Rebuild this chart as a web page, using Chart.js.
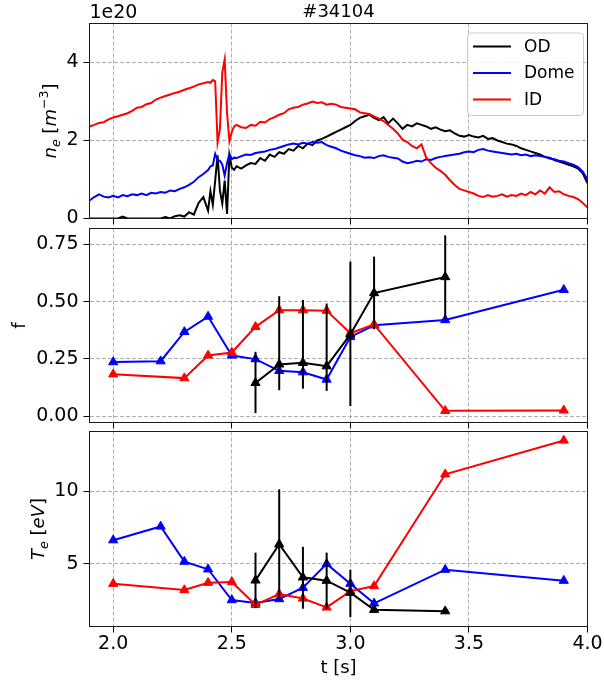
<!DOCTYPE html>
<html>
<head>
<meta charset="utf-8">
<title>#34104</title>
<script src="https://cdn.jsdelivr.net/npm/chart.js@4.4.1/dist/chart.umd.min.js"></script>
<style>
  body { margin: 0; background: #fff; overflow: hidden; }
  #wrap { position: relative; width: 604px; height: 684px; }
  #wrap canvas { position: absolute; left: 0; top: 0; }
</style>
</head>
<body>
<div id="wrap">
  <canvas id="neChart" width="604" height="684"></canvas>
  <canvas id="fChart" width="604" height="684"></canvas>
  <canvas id="teChart" width="604" height="684"></canvas>
</div>
<script>
// density traces, units of 1e20 m^-3
const neTime = [1.90, 1.92, 1.94, 1.96, 1.98, 2.00, 2.02, 2.04, 2.06, 2.08, 2.10, 2.12, 2.14, 2.16, 2.18, 2.20,
  2.22, 2.24, 2.26, 2.28, 2.30, 2.32, 2.34, 2.36, 2.38, 2.40,
  2.41, 2.42, 2.43, 2.44, 2.45, 2.46, 2.47, 2.48, 2.49, 2.50, 2.51, 2.52,
  2.54, 2.56, 2.58, 2.60, 2.62, 2.64, 2.66, 2.68, 2.70, 2.72, 2.74, 2.76, 2.78, 2.80, 2.82, 2.84, 2.86, 2.88,
  2.90, 2.92, 2.94, 2.96, 2.98, 3.00, 3.02, 3.04, 3.06, 3.08, 3.10, 3.12, 3.14, 3.16, 3.18, 3.20, 3.22, 3.24,
  3.26, 3.28, 3.30, 3.32, 3.34, 3.36, 3.38, 3.40, 3.42, 3.44, 3.46, 3.48, 3.50, 3.52, 3.54, 3.56, 3.58, 3.60,
  3.62, 3.64, 3.66, 3.68, 3.70, 3.72, 3.74, 3.76, 3.78, 3.80, 3.82, 3.84, 3.86, 3.88, 3.90, 3.92, 3.94, 3.96,
  3.98, 4.00];
const neOD = [0, 0, 0, 0, 0, 0, 0, 0.05, 0, 0, 0, 0, 0, 0, 0, 0,
  0.04, 0, 0.06, 0.08, 0.05, 0.16, 0.10, 0.40, 0.55, 0.20,
  0.70, 0.35, 0.97, 1.62, 0.72, 0.38, 0.97, 0.12, 1.62, 1.30, 1.25, 1.34,
  1.28, 1.36, 1.42, 1.40, 1.55, 1.48, 1.64, 1.58, 1.70, 1.66, 1.78, 1.74, 1.86, 1.80, 1.92, 1.88, 2.00, 2.04,
  2.10, 2.16, 2.22, 2.28, 2.34, 2.40, 2.50, 2.58, 2.62, 2.66, 2.58, 2.52, 2.60, 2.44, 2.56, 2.44, 2.30, 2.40,
  2.36, 2.44, 2.40, 2.36, 2.30, 2.34, 2.28, 2.24, 2.26, 2.18, 2.12, 2.10, 2.14, 2.10, 2.08, 2.12, 2.04, 2.06,
  2.00, 1.96, 1.92, 1.90, 1.86, 1.80, 1.76, 1.72, 1.68, 1.64, 1.58, 1.56, 1.50, 1.46, 1.42, 1.38, 1.34, 1.28,
  1.16, 0.90];
const neDome = [0.46, 0.55, 0.62, 0.56, 0.54, 0.58, 0.54, 0.60, 0.57, 0.62, 0.60, 0.64, 0.60, 0.66, 0.64, 0.68,
  0.66, 0.72, 0.70, 0.76, 0.80, 0.86, 0.94, 1.06, 1.14, 1.24,
  1.34, 1.36, 1.66, 1.50, 1.48, 1.38, 1.10, 1.42, 1.66, 1.52, 1.56, 1.55,
  1.60, 1.64, 1.63, 1.68, 1.70, 1.72, 1.76, 1.78, 1.82, 1.86, 1.90, 1.92, 1.90, 1.94, 1.92, 1.96, 1.94, 1.96,
  1.88, 1.84, 1.80, 1.74, 1.70, 1.66, 1.62, 1.60, 1.56, 1.57, 1.55, 1.60, 1.62, 1.58, 1.56, 1.54, 1.46, 1.42,
  1.44, 1.48, 1.46, 1.52, 1.50, 1.55, 1.58, 1.60, 1.62, 1.64, 1.66, 1.70, 1.72, 1.70, 1.76, 1.78, 1.74, 1.72,
  1.70, 1.68, 1.66, 1.64, 1.66, 1.62, 1.64, 1.60, 1.62, 1.60, 1.58, 1.54, 1.52, 1.48, 1.46, 1.42, 1.38, 1.32,
  1.20, 1.00];
const neID = [2.36, 2.40, 2.45, 2.47, 2.54, 2.59, 2.62, 2.66, 2.70, 2.76, 2.84, 2.86, 2.93, 2.96, 3.05, 3.10,
  3.14, 3.18, 3.22, 3.25, 3.30, 3.34, 3.38, 3.44, 3.47, 3.50,
  3.48, 3.55, 3.52, 1.95, 2.30, 3.75, 4.08, 2.70, 1.98, 2.22, 2.36, 2.40,
  2.34, 2.32, 2.40, 2.38, 2.48, 2.46, 2.55, 2.60, 2.66, 2.70, 2.80, 2.84, 2.86, 2.92, 2.95, 3.00, 2.96, 2.98,
  2.92, 2.94, 2.92, 2.86, 2.84, 2.82, 2.80, 2.72, 2.70, 2.68, 2.62, 2.56, 2.50, 2.40, 2.30, 2.18, 2.02, 1.96,
  1.86, 1.80, 1.90, 1.56, 1.42, 1.30, 1.22, 1.12, 0.98, 0.86, 0.76, 0.72, 0.68, 0.64, 0.58, 0.55, 0.60, 0.56,
  0.58, 0.62, 0.56, 0.60, 0.58, 0.64, 0.60, 0.68, 0.62, 0.72, 0.64, 0.80, 0.68, 0.70, 0.62, 0.58, 0.55, 0.50,
  0.40, 0.28];

// sampled points for f and Te
const domeTime = [2.0, 2.2, 2.3, 2.4, 2.5, 2.6, 2.7, 2.8, 2.9, 3.0, 3.1, 3.4, 3.9];
const idTime = [2.0, 2.3, 2.4, 2.5, 2.6, 2.7, 2.8, 2.9, 3.0, 3.1, 3.4, 3.9];
const odTime = [2.6, 2.7, 2.8, 2.9, 3.0, 3.1, 3.4];

const fDome = [0.236, 0.240, 0.368, 0.435, 0.265, 0.249, 0.198, 0.192, 0.160, 0.346, 0.397, 0.420, 0.552];
const fID = [0.183, 0.166, 0.265, 0.278, 0.390, 0.463, 0.463, 0.461, 0.362, 0.401, 0.023, 0.025];
const fOD = [0.145, 0.226, 0.233, 0.218, 0.357, 0.538, 0.608];
const fODErrLow = [0.132, 0.113, 0.113, 0.108, 0.313, 0.158, 0.183];
const fODErrHigh = [0.136, 0.298, 0.275, 0.274, 0.318, 0.159, 0.182];

const teDome = [6.62, 7.57, 5.14, 4.61, 2.48, 2.27, 2.55, 3.33, 4.98, 3.61, 2.25, 4.58, 3.82];
const teID = [3.61, 3.17, 3.68, 3.73, 2.15, 2.89, 2.59, 1.97, 3.10, 3.45, 11.18, 13.52];
const teOD = [3.84, 6.34, 4.05, 3.82, 2.99, 1.81, 1.71];
const teODErrLow = [1.92, 3.80, 2.17, 1.94, 1.69, 0, 0];
const teODErrHigh = [1.92, 3.80, 2.11, 1.94, 1.59, 0, 0];

const timeTicks = [2.0, 2.5, 3.0, 3.5, 4.0];
const neTicks = [0, 2, 4];
const fTicks = [0, 0.25, 0.5, 0.75];
const teTicks = [5, 10];

const seriesNames = ['OD', 'Dome', 'ID'];
const seriesColors = ['#000000', '#0000ff', '#ff0000'];

const FONT = '"DejaVu Sans", sans-serif';
const GRID = '#b0b0b0';
const PLOT_LEFT = 89.5, PLOT_RIGHT = 587.5, H = 684;

function pts(xs, ys) {
  return xs.map((x, i) => ({ x: x, y: ys[i] }));
}

function trace(label, color, xs, ys, order) {
  return { label, data: pts(xs, ys), borderColor: color, backgroundColor: color,
    borderWidth: 2, pointRadius: 0, tension: 0, order };
}

function marked(label, color, xs, ys, order) {
  return { label, data: pts(xs, ys), borderColor: color, backgroundColor: color,
    borderWidth: 2, pointStyle: 'triangle', pointRadius: 5.3, pointBorderWidth: 1,
    tension: 0, order };
}

function xAxis(withLabels, height) {
  return {
    type: 'linear', min: 1.9, max: 4.0,
    afterBuildTicks: s => { s.ticks = timeTicks.map(v => ({ value: v })); },
    afterFit: s => { s.height = height; },
    grid: { color: GRID, lineWidth: 1, tickColor: '#000', tickLength: 6, tickWidth: 1 },
    border: { display: false, dash: [4, 2] },
    ticks: { display: withLabels, color: '#000', font: { family: FONT, size: 19 },
      padding: 0, maxRotation: 0, autoSkip: false, callback: v => v.toFixed(1) },
    title: { display: withLabels, text: 't [s]', color: '#000',
      font: { family: FONT, size: 18 }, padding: { top: 0, bottom: 5 } }
  };
}

function yAxis(min, max, ticks, digits) {
  return {
    type: 'linear', min, max,
    afterBuildTicks: s => { s.ticks = ticks.map(v => ({ value: v })); },
    afterFit: s => { s.width = PLOT_LEFT; },
    grid: { color: GRID, lineWidth: 1, tickColor: '#000', tickLength: 6, tickWidth: 1 },
    border: { display: false, dash: [4, 2] },
    ticks: { color: '#000', font: { family: FONT, size: 19 }, padding: 5,
      callback: v => v.toFixed(digits) }
  };
}

function options(top, bottom, xHeight, withLabels, y) {
  return {
    responsive: false, animation: false, events: [],
    layout: { padding: { top: top, bottom: H - bottom - xHeight, left: 0, right: 604 - PLOT_RIGHT } },
    plugins: { legend: { display: false }, tooltip: { enabled: false } },
    scales: { x: xAxis(withLabels, xHeight), y: y }
  };
}

// axes box drawn over the data, like the spines
const frame = {
  id: 'frame',
  afterDatasetsDraw(chart) {
    const { ctx, chartArea: a } = chart;
    ctx.save();
    ctx.strokeStyle = '#1a1a1a';
    ctx.lineWidth = 1;
    ctx.strokeRect(a.left, a.top, a.right - a.left, a.bottom - a.top);
    ctx.restore();
  }
};

// rotated axis label built from runs: [text, italic, relative size, rise in em]
function drawLabel(ctx, x, y, runs, size) {
  ctx.save();
  ctx.translate(x, y);
  ctx.rotate(-Math.PI / 2);
  ctx.fillStyle = '#000';
  ctx.textBaseline = 'alphabetic';
  const fontOf = r => (r[1] ? 'italic ' : '') + (size * r[2]).toFixed(1) + 'px ' + FONT;
  let total = 0;
  runs.forEach(r => { ctx.font = fontOf(r); total += ctx.measureText(r[0]).width; });
  let cx = -total / 2;
  runs.forEach(r => {
    ctx.font = fontOf(r);
    ctx.fillText(r[0], cx, -r[3] * size);
    cx += ctx.measureText(r[0]).width;
  });
  ctx.restore();
}

function labelPlugin(x, runs) {
  return {
    id: 'ylabel',
    afterDraw(chart) {
      const a = chart.chartArea;
      drawLabel(chart.ctx, x, (a.top + a.bottom) / 2, runs, 18);
    }
  };
}

function errorBars(index, xs, ys, lo, hi) {
  return {
    id: 'errorBars',
    beforeDatasetDraw(chart, args) {
      if (args.index !== index) return;
      const { ctx, scales } = chart;
      ctx.save();
      ctx.strokeStyle = seriesColors[0];
      ctx.lineWidth = 2;
      xs.forEach((t, i) => {
        if (!lo[i] && !hi[i]) return;
        const px = scales.x.getPixelForValue(t);
        ctx.beginPath();
        ctx.moveTo(px, scales.y.getPixelForValue(ys[i] - lo[i]));
        ctx.lineTo(px, scales.y.getPixelForValue(ys[i] + hi[i]));
        ctx.stroke();
      });
      ctx.restore();
    }
  };
}

// title, 1e20 offset and the line legend of the top panel
const header = {
  id: 'header',
  afterDraw(chart) {
    const { ctx, chartArea: a } = chart;
    ctx.save();
    ctx.fillStyle = '#000';
    ctx.textBaseline = 'alphabetic';
    ctx.font = '18px ' + FONT;
    ctx.textAlign = 'center';
    ctx.fillText('#34104', (a.left + a.right) / 2, 17);
    ctx.font = '19px ' + FONT;
    ctx.textAlign = 'left';
    ctx.fillText('1e20', a.left, 18);

    const bx = a.right - 120, by = a.top + 9.5, bw = 116, bh = 82.5;
    ctx.beginPath();
    ctx.roundRect(bx, by, bw, bh, 4);
    ctx.fillStyle = 'rgba(255,255,255,0.8)';
    ctx.fill();
    ctx.strokeStyle = '#cccccc';
    ctx.lineWidth = 1;
    ctx.stroke();
    ctx.font = '17px ' + FONT;
    ctx.textBaseline = 'middle';
    seriesNames.forEach((name, i) => {
      const ly = by + 13.6 + i * 26.4;
      ctx.strokeStyle = seriesColors[i];
      ctx.lineWidth = 2;
      ctx.beginPath();
      ctx.moveTo(bx + 5.5, ly);
      ctx.lineTo(bx + 43.5, ly);
      ctx.stroke();
      ctx.fillStyle = '#000';
      ctx.fillText(name, bx + 56.5, ly + 1);
    });
    ctx.restore();
  }
};

new Chart(document.getElementById('neChart'), {
  type: 'line',
  data: { datasets: [
    trace(seriesNames[2], seriesColors[2], neTime, neID, 0),
    trace(seriesNames[1], seriesColors[1], neTime, neDome, 1),
    trace(seriesNames[0], seriesColors[0], neTime, neOD, 2)
  ] },
  options: options(23.5, 218.5, 6, false, yAxis(0, 5, neTicks, 0)),
  plugins: [frame, header, labelPlugin(56, [
    ['n', true, 1, 0], ['e', true, 0.7, -0.2], [' [', false, 1, 0],
    ['m', true, 1, 0], ['\u22123', false, 0.7, 0.42], [']', false, 1, 0]
  ])]
});

new Chart(document.getElementById('fChart'), {
  type: 'line',
  data: { datasets: [
    marked(seriesNames[0], seriesColors[0], odTime, fOD, 0),
    marked(seriesNames[2], seriesColors[2], idTime, fID, 1),
    marked(seriesNames[1], seriesColors[1], domeTime, fDome, 2)
  ] },
  options: options(228.5, 422.5, 6, false, yAxis(-0.028, 0.82, fTicks, 2)),
  plugins: [frame, errorBars(0, odTime, fOD, fODErrLow, fODErrHigh),
    labelPlugin(25, [['f', false, 1, 0]])]
});

new Chart(document.getElementById('teChart'), {
  type: 'line',
  data: { datasets: [
    marked(seriesNames[0], seriesColors[0], odTime, teOD, 0),
    marked(seriesNames[2], seriesColors[2], idTime, teID, 1),
    marked(seriesNames[1], seriesColors[1], domeTime, teDome, 2)
  ] },
  options: options(431.5, 626.5, H - 626.5, true, yAxis(0.65, 14.14, teTicks, 0)),
  plugins: [frame, errorBars(0, odTime, teOD, teODErrLow, teODErrHigh),
    labelPlugin(44, [
      ['T', true, 1, 0], ['e', true, 0.7, -0.2], [' [', false, 1, 0],
      ['eV', true, 1, 0], [']', false, 1, 0]
    ])]
});
</script>
</body>
</html>
